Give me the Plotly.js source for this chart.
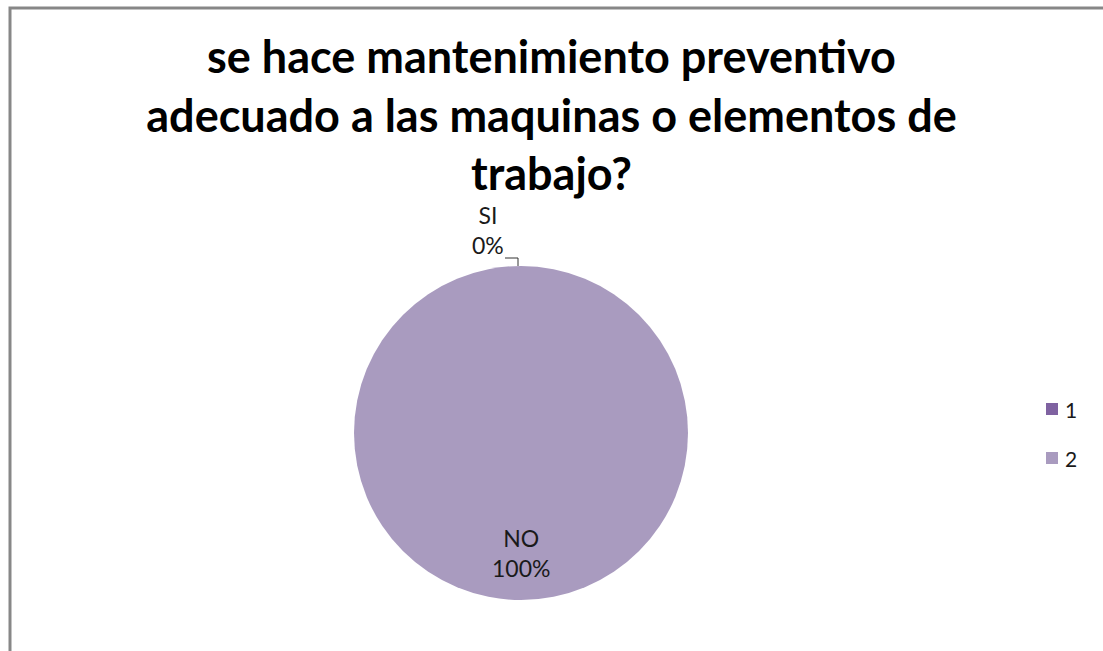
<!DOCTYPE html>
<html>
<head>
<meta charset="utf-8">
<script src="https://cdn.plot.ly/plotly-3.0.1.min.js"></script>
<style>html,body{margin:0;padding:0;background:#fff;}#chart{width:1103px;height:651px;}</style>
</head>
<body>
<div id="chart"></div>
<script>
// ---- data ----
const categories = ['SI', 'NO'];
const legendLabels = ['1', '2'];
const values = [0, 100];
const colors = ['#7f62a1', '#a99bbf'];
const titleText = 'se hace mantenimiento preventivo<br>adecuado a las maquinas o elementos de<br>trabajo?';

// ---- layout geometry (px) ----
const W = 1103, H = 651;
const cx = 521, cy = 433, R = 167;
const px = x => x / W;
const py = y => (H - y) / H;
const FONT = 'Lato, Calibri, "Open Sans", sans-serif';

const total = values.reduce((a, b) => a + b, 0);
const annotations = [];
const shapes = [];

// chart border (top + left visible)
shapes.push({type: 'rect', xref: 'paper', yref: 'paper',
  x0: px(10), x1: px(W + 20), y0: py(H + 20), y1: py(8),
  line: {color: '#878787', width: 3}, fillcolor: 'rgba(0,0,0,0)', layer: 'above'});

let cum = 0;
values.forEach((v, i) => {
  const frac = v / total;
  const mid = (cum + frac / 2) * 2 * Math.PI;
  cum += frac;
  const pct = Math.round(frac * 100) + '%';
  const text = categories[i] + '<br>' + pct;
  if (frac > 0.05) {
    const lx = cx + 0.72 * R * Math.sin(mid);
    const ly = cy - 0.72 * R * Math.cos(mid);
    annotations.push({xref: 'paper', yref: 'paper', x: px(lx), y: py(ly),
      text: text, showarrow: false, xanchor: 'center', yanchor: 'middle',
      font: {family: FONT, size: 23, color: '#1a1a1a'}});
  } else {
    const ex = cx + R * Math.sin(mid), ey = cy - R * Math.cos(mid);
    const lx = ex - 33, ly = ey - 36;
    annotations.push({xref: 'paper', yref: 'paper', x: px(lx), y: py(ly),
      text: text, showarrow: false, xanchor: 'center', yanchor: 'middle',
      font: {family: FONT, size: 23, color: '#1a1a1a'}});
    const ex2 = ex - 3;
    shapes.push({type: 'path', xref: 'paper', yref: 'paper',
      path: `M ${px(ex2 - 13)} ${py(ey - 8)} L ${px(ex2)} ${py(ey - 8)} L ${px(ex2)} ${py(ey)}`,
      line: {color: '#333', width: 1}});
  }
});

// manual legend
legendLabels.forEach((lab, i) => {
  const yC = 409 + i * 49;
  shapes.push({type: 'rect', xref: 'paper', yref: 'paper',
    x0: px(1046), x1: px(1058), y0: py(yC + 6), y1: py(yC - 6),
    fillcolor: colors[i], line: {width: 0}});
  annotations.push({xref: 'paper', yref: 'paper', x: px(1063), y: py(yC),
    text: lab, showarrow: false, xanchor: 'left', yanchor: 'middle',
    font: {family: FONT, size: 21, color: '#1a1a1a'}});
});

const trace = {
  type: 'pie',
  labels: legendLabels,
  values: values,
  sort: false,
  direction: 'clockwise',
  rotation: 0,
  textinfo: 'none',
  hoverinfo: 'label+percent',
  marker: {colors: colors, line: {width: 0}},
  domain: {x: [px(cx - R), px(cx + R)], y: [py(cy + R), py(cy - R)]},
  showlegend: false
};

const layout = {
  width: W, height: H,
  margin: {l: 0, r: 0, t: 0, b: 0},
  paper_bgcolor: '#ffffff',
  showlegend: false,
  title: {text: titleText, x: 0.5, xanchor: 'center', y: py(73), yanchor: 'middle',
    font: {family: FONT, size: 45, color: '#000', weight: 'bold'}},
  annotations: annotations,
  shapes: shapes
};

Plotly.newPlot('chart', [trace], layout, {displayModeBar: false, staticPlot: true});
</script>
</body>
</html>
